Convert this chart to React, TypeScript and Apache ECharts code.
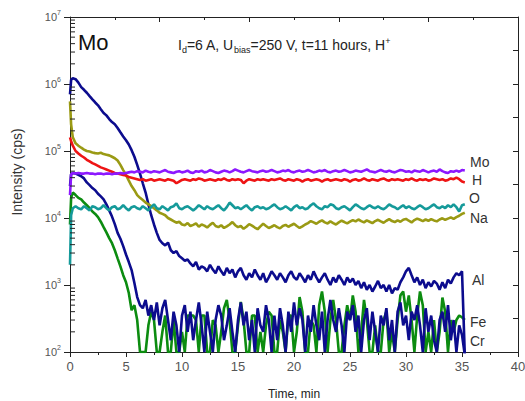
import React, { useEffect, useRef } from "react";
import * as echarts from "echarts";

const FONT = "'Liberation Sans', Arial, sans-serif";

const TIME = [
  0, 0.1,
  0.25, 0.5, 0.75, 1, 1.25, 1.5, 1.75, 2, 2.25, 2.5, 2.75, 3, 3.25, 3.5, 3.75, 4,
  4.25, 4.5, 4.75, 5, 5.25, 5.5, 5.75, 6, 6.25, 6.5, 6.75, 7, 7.25, 7.5, 7.75, 8,
  8.25, 8.5, 8.75, 9, 9.25, 9.5, 9.75, 10, 10.25, 10.5, 10.75, 11, 11.25, 11.5, 11.75, 12,
  12.25, 12.5, 12.75, 13, 13.25, 13.5, 13.75, 14, 14.25, 14.5, 14.75, 15, 15.25, 15.5, 15.75, 16,
  16.25, 16.5, 16.75, 17, 17.25, 17.5, 17.75, 18, 18.25, 18.5, 18.75, 19, 19.25, 19.5, 19.75, 20,
  20.25, 20.5, 20.75, 21, 21.25, 21.5, 21.75, 22, 22.25, 22.5, 22.75, 23, 23.25, 23.5, 23.75, 24,
  24.25, 24.5, 24.75, 25, 25.25, 25.5, 25.75, 26, 26.25, 26.5, 26.75, 27, 27.25, 27.5, 27.75, 28,
  28.25, 28.5, 28.75, 29, 29.25, 29.5, 29.75, 30, 30.25, 30.5, 30.75, 31, 31.25, 31.5, 31.75, 32,
  32.25, 32.5, 32.75, 33, 33.25, 33.5, 33.75, 34, 34.25, 34.5, 34.75, 35,
  35.25,
];

const MO = [
  22000, 45000,
  47000, 46000, 47000, 46000, 46000, 47000, 46000, 46000, 45000, 46000, 46000, 45000, 46000, 46000, 45000, 46000,
  46000, 47000, 46000, 47000, 48000, 49000, 48000, 50000, 49000, 48000, 51000, 49000, 48000, 50000, 49000, 48000,
  50000, 52000, 49000, 48000, 47000, 49000, 50000, 48000, 49000, 51000, 48000, 47000, 50000, 49000, 51000, 48000,
  49000, 52000, 50000, 48000, 47000, 49000, 51000, 50000, 48000, 50000, 53000, 51000, 49000, 48000, 50000, 52000,
  50000, 49000, 48000, 50000, 51000, 49000, 50000, 52000, 50000, 48000, 49000, 51000, 50000, 52000, 49000, 48000,
  50000, 51000, 49000, 50000, 52000, 50000, 48000, 49000, 51000, 50000, 52000, 49000, 48000, 50000, 51000, 49000,
  50000, 52000, 50000, 48000, 49000, 51000, 50000, 49000, 51000, 53000, 50000, 49000, 48000, 50000, 52000, 50000,
  49000, 51000, 49000, 48000, 50000, 52000, 51000, 49000, 50000, 48000, 51000, 50000, 49000, 52000, 50000, 48000,
  50000, 51000, 49000, 53000, 50000, 48000, 47000, 50000, 49000, 51000, 49000, 52000,
  51000,
];

const H = [
  160000, 140000,
  120000, 100000, 92000, 85000, 80000, 74000, 70000, 66000, 63000, 60000, 57000, 55000, 53000, 51000, 49000, 47000,
  46000, 45000, 44000, 43000, 41000, 40000, 39000, 38000, 37000, 38000, 36000, 37000, 38000, 36000, 37000, 38000,
  37000, 36000, 38000, 37000, 36000, 33000, 35000, 37000, 38000, 37000, 36000, 38000, 37000, 39000, 38000, 36000,
  37000, 38000, 37000, 36000, 38000, 37000, 39000, 37000, 36000, 38000, 37000, 38000, 37000, 33000, 36000, 38000,
  37000, 36000, 38000, 37000, 38000, 37000, 36000, 38000, 37000, 38000, 39000, 37000, 36000, 38000, 37000, 36000,
  38000, 37000, 35000, 37000, 38000, 36000, 37000, 38000, 37000, 35000, 37000, 38000, 36000, 37000, 38000, 37000,
  36000, 38000, 37000, 35000, 37000, 38000, 36000, 37000, 39000, 37000, 36000, 38000, 37000, 36000, 38000, 39000,
  37000, 36000, 38000, 37000, 38000, 37000, 36000, 38000, 37000, 39000, 37000, 36000, 38000, 37000, 38000, 36000,
  37000, 39000, 38000, 37000, 38000, 36000, 37000, 39000, 38000, 40000, 38000, 35000,
  34000,
];

const O = [
  2000, 11000,
  14000, 15000, 14000, 13500, 15000, 14000, 13000, 15000, 14500, 13500, 14000, 15500, 14000, 13000, 14500, 15000,
  13500, 14000, 15500, 14000, 13000, 14500, 15000, 14000, 13500, 15000, 14000, 13000, 14500, 16000, 14000, 13500,
  15000, 14000, 13000, 14500, 15000, 16500, 14000, 13500, 14500, 15000, 14000, 13000, 14000, 15500, 14500, 13500,
  15000, 14000, 13500, 14500, 15500, 14000, 13000, 14500, 17000, 15500, 14000, 14500, 13500, 14500, 15500, 14000,
  13000, 14500, 15000, 14000, 14500, 13500, 14000, 15000, 16000, 14500, 13500, 14000, 15000, 14000, 13000, 14500,
  15500, 14000, 14500, 13500, 14000, 15500, 16500, 15000, 14000, 13500, 15000, 14500, 16000, 15500, 14000, 13500,
  14500, 15000, 14000, 13000, 14500, 16000, 15000, 14000, 13500, 14500, 15500, 14500, 14000, 15000, 14000, 13500,
  14500, 16000, 15000, 14500, 13500, 14500, 15500, 14000, 15000, 14000, 13500, 14500, 15500, 14500, 13500, 14000,
  15000, 16000, 14500, 14000, 15000, 14000, 15500, 14500, 16000, 14500, 12500, 15500,
  16000,
];

const NA = [
  550000, 250000,
  160000, 130000, 120000, 112000, 105000, 100000, 98000, 95000, 93000, 92000, 94000, 90000, 88000, 86000, 82000, 78000,
  72000, 62000, 52000, 44000, 36000, 30000, 26000, 22000, 20000, 18500, 17000, 16000, 15000, 14000, 13000, 12000,
  11500, 11000, 10000, 9500, 9000, 8500, 8800, 8000, 7800, 8400, 7600, 7900, 8300, 7400, 8000, 7700,
  7200, 7900, 8500, 7600, 7300, 7800, 7100, 7500, 8000, 8700, 7800, 7300, 7600, 6900, 7400, 8100,
  7700, 7200, 6800, 7500, 8200, 7600, 7100, 7400, 7800, 7300, 7000, 7600, 7900, 7400, 7800, 8200,
  7600, 7100, 7500, 8000, 8400, 9000, 8600, 8200, 8800, 9200, 8600, 8300, 8900, 8400, 8000, 8600,
  9100, 8700, 8300, 8800, 9300, 8900, 9500, 9000, 8600, 9200, 8800, 8400, 9000, 9400, 8900, 8500,
  9100, 9600, 9000, 8700, 9200, 8800, 9400, 9700, 9100, 8600, 9300, 9800, 9400, 9000, 9500, 9100,
  9600, 9200, 8900, 9500, 9900, 9400, 9800, 10200, 9700, 10300, 10800, 11500,
  12000,
];

const AL = [
  700000, 1150000,
  1220000, 1180000, 1050000, 900000, 820000, 740000, 660000, 590000, 530000, 480000, 420000, 370000, 340000, 300000, 270000, 250000,
  220000, 190000, 165000, 145000, 125000, 103000, 82000, 62000, 46000, 33000, 24000, 16000, 11000, 8000, 6000, 4700,
  4200, 3900, 4300, 3300, 3000, 3200, 2700, 2500, 2300, 2400, 2100, 1900, 2200, 1700, 1900, 1800,
  1600, 2000, 1700, 1500, 1900, 1600, 1400, 1800, 1500, 1700, 1300, 1600, 1800, 1400, 1200, 1500,
  1300, 1700, 1400, 1200, 1500, 1100, 1300, 1600, 1400, 1200, 1500, 1300, 1100, 1400, 1600, 1300,
  1200, 1500, 1300, 1100, 1400, 1200, 1600, 1300, 1100, 1300, 1500, 1200, 1000, 1300, 1100, 1400,
  1200, 1000, 1300, 1100, 1250, 1000, 1150, 900, 1100, 850, 1000, 800, 950, 1150, 900, 1000,
  800, 1000, 750, 900, 850, 1100, 1300, 1600, 1800, 1400, 1100, 1300, 1000, 1200, 900, 1100,
  950, 1150, 1050, 850, 1100, 900, 1200, 1050, 1300, 1500, 1400, 1600,
  90,
];

const CR = [
  30000, 45000,
  47000, 46000, 44000, 42000, 39000, 34000, 31000, 28000, 26000, 23000, 21000, 19000, 16000, 13000, 10500, 8100,
  6000, 4900, 3800, 2850, 2200, 1670, 1070, 660, 500, 450, 600, 350, 500, 300, 550, 250,
  450, 600, 300, 150, 400, 250, 100, 350, 500, 200, 400, 150, 300, 550, 250, 100,
  400, 200, 100, 300, 500, 350, 150, 250, 450, 200, 100, 300, 550, 250, 400, 150,
  300, 100, 450, 250, 200, 500, 300, 100, 350, 150, 450, 250, 100, 400, 200, 550,
  250, 450, 300, 100, 350, 200, 500, 250, 150, 400, 100, 300, 600, 300, 200, 450,
  250, 100, 400, 300, 500, 200, 350, 100, 300, 450, 150, 400, 200, 100, 350, 250,
  450, 150, 300, 100, 400, 550, 250, 350, 150, 400, 300, 500, 250, 100, 450, 200,
  350, 150, 100, 300, 400, 200, 500, 150, 300, 100, 250, 180,
  90,
];

const FE = [
  8000, 20000,
  24000, 22000, 20000, 19000, 17000, 15500, 14000, 12500, 11500, 10300, 8800, 7300, 6100, 5000, 4200, 3300,
  2500, 1900, 1400, 1100, 760, 420, 500, 300, 100, 100, 100, 250, 400, 300, 100, 100,
  200, 350, 100, 100, 300, 100, 100, 200, 100, 350, 350, 350, 300, 100, 350, 350,
  100, 100, 300, 250, 100, 200, 450, 600, 300, 100, 100, 250, 560, 300, 100, 100,
  350, 350, 100, 200, 100, 250, 400, 350, 100, 100, 300, 200, 100, 350, 350, 100,
  200, 660, 400, 100, 100, 300, 250, 100, 500, 800, 400, 100, 300, 600, 300, 100,
  100, 250, 500, 300, 700, 400, 100, 200, 600, 300, 100, 100, 250, 100, 100, 300,
  400, 100, 200, 100, 300, 700, 800, 400, 700, 300, 100, 350, 800, 500, 100, 200,
  100, 300, 100, 200, 650, 400, 100, 300, 200, 300, 350, 330,
  300,
];

const Y_LABEL_EXPONENTS = [2, 3, 4, 5, 6, 7];
const MINOR_MULTIPLIERS = [2, 3, 4, 5, 6, 7, 8, 9];

const SERIES = [
  { name: "Fe", data: FE, color: "#0c8c10" },
  { name: "Cr", data: CR, color: "#0c0c8e" },
  { name: "Al", data: AL, color: "#0c0c8e" },
  { name: "Na", data: NA, color: "#9a9a14" },
  { name: "O", data: O, color: "#159a9a" },
  { name: "H", data: H, color: "#ee1414" },
  { name: "Mo", data: MO, color: "#8c18ff" },
];

const END_LABELS = [
  { text: "Mo", x: 470, y: 162 },
  { text: "H", x: 472, y: 180 },
  { text: "O", x: 469, y: 198 },
  { text: "Na", x: 470, y: 218 },
  { text: "Al", x: 472, y: 280 },
  { text: "Fe", x: 470, y: 322 },
  { text: "Cr", x: 470, y: 341 },
];

export default function App() {
  const ref = useRef<HTMLDivElement>(null);

  useEffect(() => {
    document.body.style.margin = "0";
    if (!ref.current) return;
    const chart = echarts.init(ref.current, null, { renderer: "svg" });

    const minorTicks: number[][] = [];
    for (let k = Y_LABEL_EXPONENTS[0]; k < Y_LABEL_EXPONENTS[Y_LABEL_EXPONENTS.length - 1]; k++) {
      for (const m of MINOR_MULTIPLIERS) minorTicks.push([0, m * Math.pow(10, k)]);
    }

    const lineSeries = SERIES.map((s) => ({
      type: "line",
      name: s.name,
      xAxisIndex: 0,
      yAxisIndex: 0,
      showSymbol: false,
      symbol: "none",
      clip: true,
      data: TIME.map((t, i) => [t, s.data[i]]),
      lineStyle: { color: s.color, width: 2.6 },
      itemStyle: { color: s.color },
    }));

    const axisColor = "#222";

    const option: any = {
      animation: false,
      backgroundColor: "#ffffff",
      grid: { left: 70, right: 7, top: 17, bottom: 49, containLabel: false, outerBoundsMode: "none" },
      xAxis: [
        {
          type: "value",
          min: 0,
          max: 40,
          interval: 5,
          position: "bottom",
          axisLine: { show: true, onZero: false, lineStyle: { color: axisColor, width: 1 } },
          axisTick: { show: true, inside: false, length: 5, lineStyle: { color: axisColor } },
          minorTick: { show: true, splitNumber: 2, length: 3, lineStyle: { color: axisColor } },
          splitLine: { show: false },
          axisLabel: { color: "#555", fontSize: 13, margin: 8, fontFamily: FONT },
          name: "Time, min",
          nameLocation: "middle",
          nameGap: 36,
          nameTextStyle: { color: "#222", fontSize: 12, fontWeight: "normal", fontFamily: FONT },
        },
        {
          type: "value",
          min: 0,
          max: 40,
          interval: 8,
          position: "top",
          axisLine: { show: true, onZero: false, lineStyle: { color: axisColor, width: 1 } },
          axisTick: { show: true, inside: true, length: 5, lineStyle: { color: axisColor } },
          minorTick: { show: true, splitNumber: 2, length: 3, lineStyle: { color: axisColor } },
          splitLine: { show: false },
          axisLabel: { show: false },
        },
      ],
      yAxis: [
        {
          type: "log",
          logBase: 10,
          min: 100,
          max: 10000000,
          position: "left",
          axisLine: { show: true, onZero: false, lineStyle: { color: axisColor, width: 1 } },
          axisTick: { show: true, inside: false, length: 6, lineStyle: { color: axisColor } },
          splitLine: { show: false },
          axisLabel: {
            margin: 9,
            fontFamily: FONT,
            formatter: (v: number) => `{b|10}{s|${Math.round(Math.log10(v))}}`,
            rich: {
              b: { fontSize: 11, color: "#555", lineHeight: 16, fontFamily: FONT },
              s: { fontSize: 7, color: "#555", lineHeight: 7, verticalAlign: "top", fontFamily: FONT },
            },
          },
        },
        {
          type: "value",
          min: 0,
          max: 10,
          interval: 1,
          position: "right",
          axisLine: { show: true, onZero: false, lineStyle: { color: axisColor, width: 1 } },
          axisTick: { show: true, inside: true, length: 5, lineStyle: { color: axisColor } },
          splitLine: { show: false },
          axisLabel: { show: false },
        },
      ],
      series: [
        ...lineSeries,
        {
          type: "custom",
          name: "minorTicks",
          xAxisIndex: 0,
          yAxisIndex: 0,
          silent: true,
          clip: false,
          z: 10,
          encode: { x: 0, y: 1 },
          data: minorTicks,
          renderItem: (params: any, api: any) => {
            const p = api.coord([api.value(0), api.value(1)]);
            return {
              type: "line",
              shape: { x1: p[0], y1: p[1], x2: p[0] + 5, y2: p[1] },
              style: { stroke: axisColor, lineWidth: 1 },
            };
          },
        },
      ],
      graphic: [
        {
          type: "text",
          left: 78,
          top: 31,
          style: { text: "Mo", font: `22px ${FONT}`, fill: "#111" },
        },
        {
          type: "text",
          left: 178,
          top: 36,
          style: {
            text: "{n|I}{sub|d}{n|=6 A, U}{sub|bias}{n|=250 V, t=11 hours, H}{sup|+}",
            rich: {
              n: { fontSize: 14, lineHeight: 18, fill: "#222", fontFamily: FONT },
              sub: { fontSize: 9, lineHeight: 9, verticalAlign: "bottom", fill: "#222", fontFamily: FONT },
              sup: { fontSize: 9, lineHeight: 9, verticalAlign: "top", fill: "#222", fontFamily: FONT },
            },
          },
        },
        {
          type: "text",
          x: 17,
          y: 172,
          rotation: Math.PI / 2,
          style: {
            text: "Intensity (cps)",
            font: `14px ${FONT}`,
            fill: "#333",
            align: "center",
            verticalAlign: "middle",
          },
        },
        ...END_LABELS.map((l) => ({
          type: "text",
          x: l.x,
          y: l.y,
          style: {
            text: l.text,
            font: `14px ${FONT}`,
            fill: "#333",
            verticalAlign: "middle",
            align: "left",
          },
        })),
      ],
    };

    chart.setOption(option);
    return () => chart.dispose();
  }, []);

  return <div ref={ref} style={{ width: 525, height: 401 }} />;
}
